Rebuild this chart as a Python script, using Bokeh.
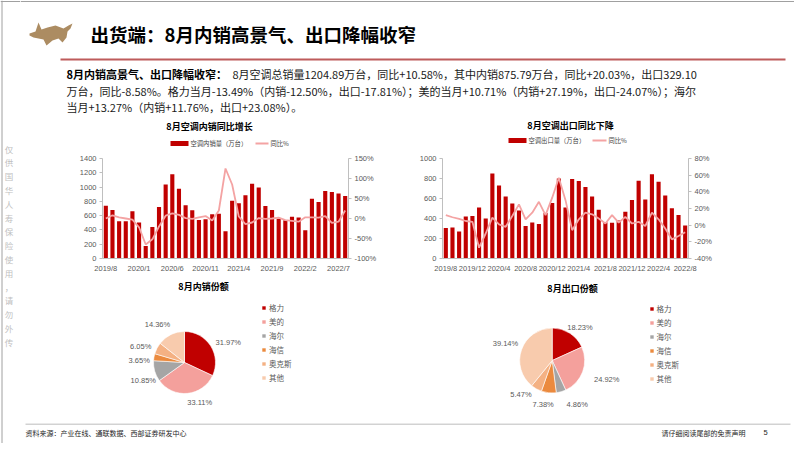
import math
from bokeh.plotting import figure
from bokeh.layouts import column, row
from bokeh.models import Range1d, LinearAxis, FixedTicker, ColumnDataSource
from bokeh.core.properties import value
from bokeh.embed import file_html
from bokeh.resources import INLINE

CJK = "Noto Sans CJK SC"
LAT = "Liberation Sans"
BAR = "#C00000"
LINE = "#F4A3A3"
AXC = "#BFBFBF"
TXT = "#595959"

# ---------------- data ----------------
months = ["2019/8", "2019/9", "2019/10", "2019/11", "2019/12",
          "2020/1", "2020/2", "2020/3", "2020/4", "2020/5", "2020/6",
          "2020/7", "2020/8", "2020/9", "2020/10", "2020/11", "2020/12",
          "2021/1", "2021/2", "2021/3", "2021/4", "2021/5", "2021/6",
          "2021/7", "2021/8", "2021/9", "2021/10", "2021/11", "2021/12",
          "2022/1", "2022/2", "2022/3", "2022/4", "2022/5", "2022/6",
          "2022/7", "2022/8"]

dom_sales = [740, 680, 520, 520, 660, 505, 175, 440, 720, 1035, 1180,
             975, 745, 675, 540, 550, 620, 625, 380, 810, 775, 885, 1045,
             995, 735, 680, 555, 535, 585, 575, 395, 835, 790, 945, 930,
             910, 876]
dom_yoy = [0, 8, 3, 0, -3, -22, -65, -52, -20, 7, 13, 9, 1, -1, 3, 6, -5,
           20, 125, 85, 5, -14, -10, 1, -1, 0, 2, -4, -6, -8, 3, 3, 2, 6,
           -11, -8, 20]

exp_sales = [305, 310, 270, 420, 425, 510, 400, 850, 730, 620, 550, 480,
             325, 360, 345, 455, 555, 800, 510, 795, 775, 715, 620, 487,
             362, 358, 380, 468, 584, 777, 590, 842, 768, 629, 503, 435,
             329]
exp_yoy = [12, 9.5, 7.5, 5, 4, -27, -10, 9, 1, -2, 11, 25, 7, 15, 28, 12,
           33, 57, 30, -6, 7, 15, 13, 8, 2, 12, 3, 10, 2, 4, -1, 15, 7, -4,
           -17, -13, -8.6]

dom_xtick_idx = [0, 5, 10, 15, 20, 25, 30, 35]
exp_xtick_idx = [0, 4, 8, 12, 16, 20, 24, 28, 32, 36]
dom_left_ticks = [0, 200, 400, 600, 800, 1000, 1200, 1400]
dom_pct_ticks = [-100, -50, 0, 50, 100, 150]
exp_left_ticks = [0, 200, 400, 600, 800, 1000]
exp_pct_ticks = [-40, -20, 0, 20, 40, 60, 80]

brands = ["格力", "美的", "海尔", "海信", "奥克斯", "其他"]
dom_share = [31.97, 33.11, 10.85, 3.65, 6.05, 14.36]
exp_share = [18.23, 24.92, 4.86, 7.38, 5.47, 39.14]
brand_colors = ["#C00000", "#F4A09C", "#A5A5A5", "#EB8A3E", "#F4B183", "#F8CBAD"]

sidebar = "仅供国华人寿保险使用，请勿外传"

# label nudges (pixels, style only)
dom_label_nudge = [(5, 3), (11, -3), (3, 6), (0, 5), (-3, 4), (-7, 1)]
exp_label_nudge = [(2, 4), (10, 3), (12, 1), (-4, 0), (-8, -5), (-2, -2)]


# ---------------- helpers ----------------
def canvas(x0, x1, y0, y1):
    """A plain figure whose data coords are page pixels (y negated)."""
    p = figure(width=x1 - x0, height=y1 - y0,
               x_range=Range1d(x0, x1), y_range=Range1d(-y1, -y0),
               toolbar_location=None, output_backend="svg",
               x_axis_location=None, y_axis_location=None,
               min_border=0, outline_line_color=None,
               background_fill_color="white", border_fill_color="white")
    p.grid.grid_line_color = None
    return p


def put_text(p, x, y, t, size, color="#000000", bold=False, align="left",
             font=CJK):
    p.text(x=[x], y=[-y], text=[t], text_font=value(font),
           text_font_size=size, text_color=color,
           text_font_style="bold" if bold else "normal",
           text_align=align, text_baseline="middle")


def bar_chart(x0, x1, fl, fr, ft, fb, values, yoy, left_ticks, pct_ticks,
              tick_idx):
    y0, y1 = 150, 275
    n = len(values)
    idx = list(range(n))
    p = figure(width=x1 - x0, height=y1 - y0,
               x_range=Range1d(-0.5, n - 0.5),
               y_range=Range1d(left_ticks[0], left_ticks[-1]),
               toolbar_location=None, output_backend="svg",
               min_border_left=round(fl - x0), min_border_right=round(x1 - fr),
               min_border_top=round(ft - y0), min_border_bottom=round(y1 - fb),
               outline_line_color=None,
               background_fill_color="white", border_fill_color="white")
    p.extra_y_ranges = {"pct": Range1d(pct_ticks[0], pct_ticks[-1])}
    src = ColumnDataSource(dict(x=idx, v=values, r=yoy))
    p.vbar(x="x", top="v", width=0.62, fill_color=BAR, line_color=None,
           source=src)
    p.line(x="x", y="r", y_range_name="pct", line_color=LINE,
           line_width=1.8, source=src)
    p.grid.grid_line_color = None

    ra = LinearAxis(y_range_name="pct")
    p.add_layout(ra, "right")
    ra.ticker = FixedTicker(ticks=pct_ticks)
    ra.major_label_overrides = {t: f"{t}%" for t in pct_ticks}

    p.yaxis[0].ticker = FixedTicker(ticks=left_ticks)
    p.xaxis.ticker = FixedTicker(ticks=tick_idx)
    p.xaxis.major_label_overrides = {i: months[i] for i in tick_idx}

    for ax in [p.xaxis[0], p.yaxis[0], ra]:
        ax.axis_line_color = AXC
        ax.major_tick_line_color = AXC
        ax.major_tick_out = 3
        ax.major_tick_in = 0
        ax.minor_tick_line_color = None
        ax.major_label_text_font = LAT
        ax.major_label_text_font_size = "7.5px"
        ax.major_label_text_color = TXT
        ax.major_label_standoff = 3
    p.xaxis.major_tick_line_color = None
    p.xaxis.major_label_standoff = 2
    return p


def pie_chart(x0, x1, y0, y1, cx, cy, r, shares, nudge, title, tx, ty, lx, lb):
    p = canvas(x0, x1, y0, y1)
    total = sum(shares)
    starts, ends, lxs, lys, labels = [], [], [], [], []
    cum = 0.0
    for s, (nx, ny) in zip(shares, nudge):
        f = s / total
        starts.append(math.pi / 2 - 2 * math.pi * cum)
        ends.append(math.pi / 2 - 2 * math.pi * (cum + f))
        th = 2 * math.pi * (cum + f / 2)
        dx, dy = math.sin(th), -math.cos(th)
        lxs.append(cx + dx * (r + 4) + 11 * dx + nx)
        lys.append(-(cy + dy * (r + 4) + 8 * dy + ny))
        labels.append(f"{s:.2f}%")
        cum += f
    src = ColumnDataSource(dict(brand=brands, start=starts, end=ends,
                                color=brand_colors,
                                cx=[cx] * len(shares), cy=[-cy] * len(shares)))
    p.wedge(x="cx", y="cy", radius=r, radius_units="screen",
            start_angle="start", end_angle="end", direction="clock",
            fill_color="color", line_color="white", line_width=0.6,
            legend_field="brand", source=src)
    p.text(x=lxs, y=lys, text=labels, text_font=value(LAT),
           text_font_size="7.5px", text_color=TXT, text_align="center",
           text_baseline="middle")
    put_text(p, tx, ty, title, "9px", "#000000", True, "center")
    leg = p.legend[0]
    leg.location = (lx - x0, y1 - lb)
    leg.orientation = "vertical"
    leg.glyph_width = 5
    leg.glyph_height = 5
    leg.label_height = 14
    leg.spacing = 0
    leg.padding = 0
    leg.margin = 0
    leg.label_standoff = 3
    leg.border_line_color = None
    leg.background_fill_alpha = 0
    leg.label_text_font = CJK
    leg.label_text_font_size = "7.5px"
    leg.label_text_color = TXT
    return p


# ---------------- left strip (page border + vertical notice) ----------------
strip = canvas(0, 20, 0, 443)
strip.segment(x0=[1.5], y0=[0], x1=[1.5], y1=[-443], line_color="#A0A0A0", line_width=1)
strip.segment(x0=[0], y0=[-1], x1=[20], y1=[-1], line_color="#A0A0A0", line_width=1)
side_y = [148 + 13.8 * i for i in range(len(sidebar))]
for ch, yy in zip(sidebar, side_y):
    put_text(strip, 8.5, yy, ch, "8.5px", "#BFBFBF", False, "center")

# ---------------- header ----------------
hdr = canvas(20, 794, 0, 150)
hdr.segment(x0=[20], y0=[-1], x1=[794], y1=[-1], line_color="#A0A0A0", line_width=1)
bull_x = [29, 35, 38, 41, 47, 55, 63, 68, 72, 70, 67, 66, 62, 58, 52, 46, 43, 38, 33, 29]
bull_y = [33, 31, 22, 29, 27, 25, 28, 25, 23, 28, 31, 37, 42, 38, 40, 45, 39, 38, 37, 35]
hdr.patch(x=bull_x, y=[-v for v in bull_y], fill_color="#AC8C62", line_color=None)
put_text(hdr, 90, 33, "出货端：8月内销高景气、出口降幅收窄", "18.5px", "#000000", True)
hdr.segment(x0=[60], y0=[-59], x1=[785], y1=[-59], line_color="#BE5B5B", line_width=2)

put_text(hdr, 66, 73, "8月内销高景气、出口降幅收窄：", "11px", "#000000", True)
put_text(hdr, 232, 73, "8月空调总销量1204.89万台，同比+10.58%，其中内销875.79万台，同比+20.03%，出口329.10",
         "11px", "#1A1A1A")
put_text(hdr, 66, 90, "万台，同比-8.58%。格力当月-13.49%（内销-12.50%，出口-17.81%）；美的当月+10.71%（内销+27.19%，出口-24.07%）；海尔",
         "11px", "#1A1A1A")
put_text(hdr, 66, 106, "当月+13.27%（内销+11.76%，出口+23.08%）。", "11px", "#1A1A1A")

# chart titles and legends
put_text(hdr, 209, 126, "8月空调内销同比增长", "9px", "#000000", True, "center")
put_text(hdr, 570, 125, "8月空调出口同比下降", "9px", "#000000", True, "center")
hdr.quad(left=[170, 508], right=[188, 526], top=[-140.5, -137.5],
         bottom=[-145.5, -142.5], fill_color=BAR, line_color=None)
hdr.segment(x0=[255, 592], y0=[-143, -140], x1=[268, 606], y1=[-143, -140],
            line_color=LINE, line_width=2)
put_text(hdr, 190, 143, "空调内销量（万台）", "6.3px", "#404040")
put_text(hdr, 270, 143, "同比%", "6.3px", "#404040")
put_text(hdr, 528, 140, "空调出口量（万台）", "6.3px", "#404040")
put_text(hdr, 608, 140, "同比%", "6.3px", "#404040")

# ---------------- bar charts ----------------
left_bar = bar_chart(20, 400, 101.7, 348, 158, 258, dom_sales, dom_yoy,
                     dom_left_ticks, dom_pct_ticks, dom_xtick_idx)
right_bar = bar_chart(400, 794, 441.7, 688, 154, 258, exp_sales, exp_yoy,
                      exp_left_ticks, exp_pct_ticks, exp_xtick_idx)

# ---------------- pies ----------------
left_pie = pie_chart(20, 400, 275, 423, 184, 362, 31, dom_share, dom_label_nudge,
                     "8月内销份额", 203, 286, 261, 384)
right_pie = pie_chart(400, 794, 275, 423, 551.7, 360, 32.5, exp_share, exp_label_nudge,
                      "8月出口份额", 572, 288, 648.5, 385)

# ---------------- footer ----------------
foot = canvas(20, 794, 423, 443)
foot.segment(x0=[25], y0=[-423.5], x1=[790], y1=[-423.5], line_color="#A6A6A6", line_width=1)
put_text(foot, 25, 432, "资料来源：产业在线、通联数据、西部证券研发中心", "7px", "#262626")
put_text(foot, 745, 432, "请仔细阅读尾部的免责声明", "7px", "#262626", False, "right")
put_text(foot, 765, 432, "5", "7.5px", "#262626", False, "center", LAT)

layout = row(strip,
             column(hdr,
                    row(left_bar, right_bar),
                    row(left_pie, right_pie),
                    foot))

open("out.html", "w").write(file_html(layout, INLINE))
